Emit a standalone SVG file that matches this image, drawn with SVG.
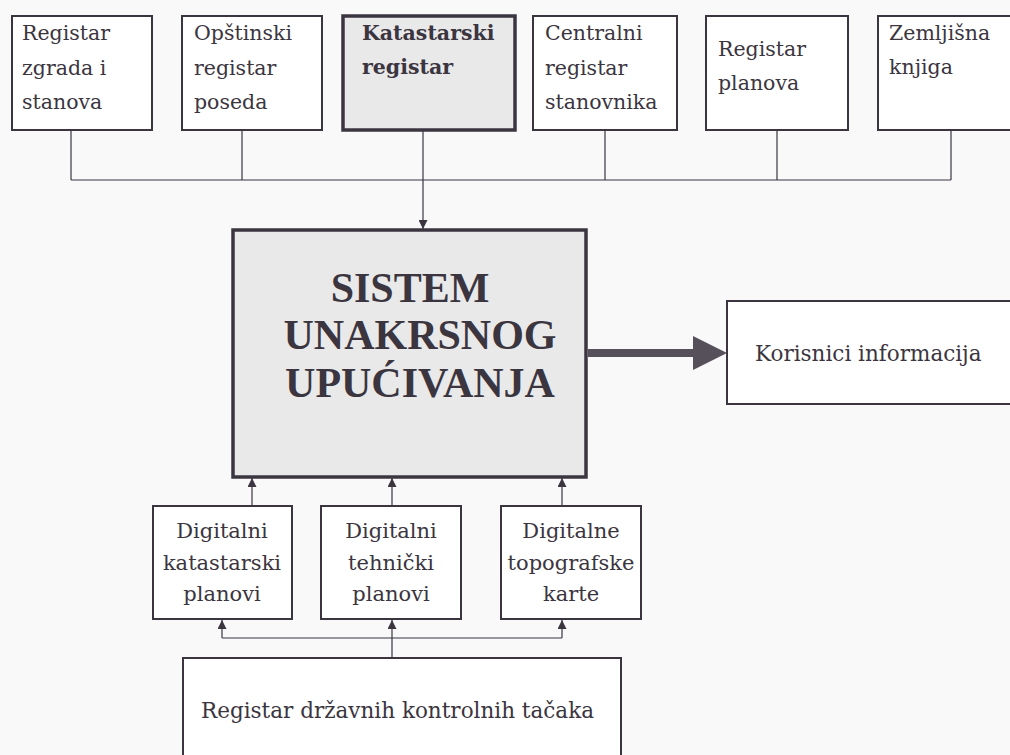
<svg xmlns="http://www.w3.org/2000/svg" width="1010" height="755" viewBox="0 0 1010 755">
<defs>
<style>
.box{fill:#ffffff;stroke:#3b3540;stroke-width:2}
.boxg{fill:#e9e9ea;stroke:#3b3540;stroke-width:3.5}
.t{font-family:"DejaVu Serif","Liberation Serif",serif;font-size:20.5px;fill:#3b3540}
.tb{font-family:"DejaVu Serif","Liberation Serif",serif;font-size:20.5px;font-weight:bold;fill:#3b3540}
.tc{font-family:"DejaVu Serif","Liberation Serif",serif;font-size:21px;fill:#3b3540;text-anchor:middle}
.big{font-family:"Liberation Serif","Times New Roman",serif;font-size:42px;font-weight:bold;fill:#3b3540;text-anchor:middle}
.ln{fill:none;stroke:#3b3540;stroke-width:1.2}
</style>
<marker id="ah" viewBox="0 0 10 10" refX="10" refY="5" markerWidth="9" markerHeight="9" markerUnits="userSpaceOnUse" orient="auto">
<path d="M0,0 L10,5 L0,10 Z" fill="#3b3540"/>
</marker>
</defs>
<rect width="1010" height="755" fill="#f9f9fa"/>

<g id="connectors">
<path class="ln" d="M71,130 V180 M242,130 V180 M605,130 V180 M777,130 V180 M951,130 V180 M71,180 H951"/>
<path class="ln" d="M423,130 V229" marker-end="url(#ah)"/>
<path class="ln" d="M252,506 V478" marker-end="url(#ah)"/>
<path class="ln" d="M392,506 V478" marker-end="url(#ah)"/>
<path class="ln" d="M562,506 V478" marker-end="url(#ah)"/>
<path class="ln" d="M392,658 V620" marker-end="url(#ah)"/>
<path class="ln" d="M222,638 H562"/>
<path class="ln" d="M222,638 V620" marker-end="url(#ah)"/>
<path class="ln" d="M562,638 V620" marker-end="url(#ah)"/>
<rect x="588" y="349" width="107" height="8" fill="#55505a"/>
<polygon points="693,336 727,353 693,370" fill="#55505a"/>
</g>

<g id="n-zgrade">
<rect class="box" x="12" y="16" width="140" height="114"/>
<text class="t" x="22" y="40">Registar</text>
<text class="t" x="22" y="75">zgrada i</text>
<text class="t" x="22" y="109">stanova</text>
</g>
<g id="n-posed">
<rect class="box" x="182" y="16" width="140" height="114"/>
<text class="t" x="194" y="40">Opštinski</text>
<text class="t" x="194" y="75">registar</text>
<text class="t" x="194" y="109">poseda</text>
</g>
<g id="n-katastar">
<rect class="boxg" x="343" y="16" width="172" height="114"/>
<text class="tb" x="362" y="40">Katastarski</text>
<text class="tb" x="362" y="74">registar</text>
</g>
<g id="n-stanovnici">
<rect class="box" x="533" y="16" width="144" height="114"/>
<text class="t" x="545" y="40">Centralni</text>
<text class="t" x="545" y="75">registar</text>
<text class="t" x="545" y="109">stanovnika</text>
</g>
<g id="n-planovi">
<rect class="box" x="706" y="16" width="142" height="114"/>
<text class="t" x="718" y="56">Registar</text>
<text class="t" x="718" y="90">planova</text>
</g>
<g id="n-zemljisna">
<rect class="box" x="878" y="16" width="140" height="114"/>
<text class="t" x="889" y="40">Zemljišna</text>
<text class="t" x="889" y="74">knjiga</text>
</g>

<g id="n-sistem">
<rect class="boxg" x="233" y="230" width="353" height="247"/>
<text class="big" x="410" y="302">SISTEM</text>
<text class="big" x="420" y="349">UNAKRSNOG</text>
<text class="big" x="420" y="397">UPUĆIVANJA</text>
</g>

<g id="n-korisnici">
<rect class="box" x="727" y="301" width="300" height="103"/>
<text class="t" x="755" y="361" style="font-size:21.5px">Korisnici informacija</text>
</g>

<g id="n-dkp">
<rect class="box" x="153" y="506" width="139" height="113"/>
<text class="tc" x="222" y="538">Digitalni</text>
<text class="tc" x="222" y="570">katastarski</text>
<text class="tc" x="222" y="601">planovi</text>
</g>
<g id="n-dtp">
<rect class="box" x="321" y="506" width="140" height="113"/>
<text class="tc" x="391" y="538">Digitalni</text>
<text class="tc" x="391" y="570">tehnički</text>
<text class="tc" x="391" y="601">planovi</text>
</g>
<g id="n-dtk">
<rect class="box" x="501" y="506" width="140" height="113"/>
<text class="tc" x="571" y="538">Digitalne</text>
<text class="tc" x="571" y="570">topografske</text>
<text class="tc" x="571" y="601">karte</text>
</g>

<g id="n-tacke">
<rect class="box" x="183" y="658" width="438" height="110"/>
<text class="t" x="201" y="718" style="font-size:21.5px">Registar državnih kontrolnih tačaka</text>
</g>
</svg>
